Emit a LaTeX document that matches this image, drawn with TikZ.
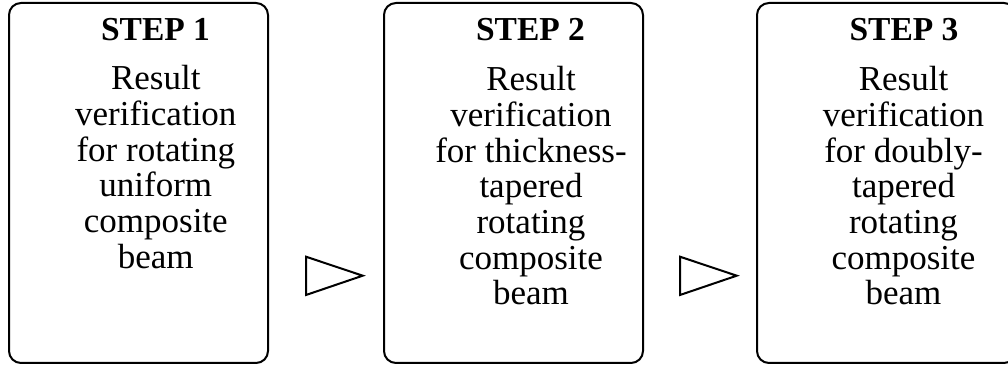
\documentclass[tikz,border=0pt]{standalone}
\usepackage{fontspec}
\setmainfont{Liberation Serif}
\begin{document}
\begin{tikzpicture}[x=1pt,y=1pt,
  stepbox/.style={draw, line width=2pt, rounded corners=12pt, minimum width=259pt, minimum height=360pt, inner sep=0pt},
  steptitle/.style={font=\fontsize{33.5}{36}\selectfont\bfseries, anchor=base, inner sep=0pt},
  stepbody/.style={font=\fontsize{35}{35.7}\selectfont, align=center, anchor=base, inner sep=0pt},
  flowtri/.style={draw, line width=2pt, line join=miter}]
\useasboundingbox (0,0) rectangle (1008,366);

\node[stepbox] (box1) at (138.5,183) {};
\node[stepbox] (box2) at (513.5,183) {};
\node[stepbox] (box3) at (886.5,183) {};

\node[steptitle] (t1) at (155.5,325.3) {STEP 1};
\node[steptitle] (t2) at (530.5,325.3) {STEP 2};
\node[steptitle] (t3) at (904,325.3) {STEP 3};

\node[stepbody] (b1) at (155.8,97.7) {Result\\verification\\for rotating\\uniform\\composite\\beam};
\node[stepbody] (b2) at (531,61) {Result\\verification\\for thickness-\\tapered\\rotating\\composite\\beam};
\node[stepbody] (b3) at (903.5,61) {Result\\verification\\for doubly-\\tapered\\rotating\\composite\\beam};

\coordinate (a1t) at (306,109.3);
\coordinate (a1b) at (306,71);
\coordinate (a1p) at (362.7,90.3);
\draw[flowtri] (a1t) -- (a1p) -- (a1b) -- cycle;

\coordinate (a2t) at (680,109.3);
\coordinate (a2b) at (680,71);
\coordinate (a2p) at (736.7,90.3);
\draw[flowtri] (a2t) -- (a2p) -- (a2b) -- cycle;
\end{tikzpicture}
\end{document}
